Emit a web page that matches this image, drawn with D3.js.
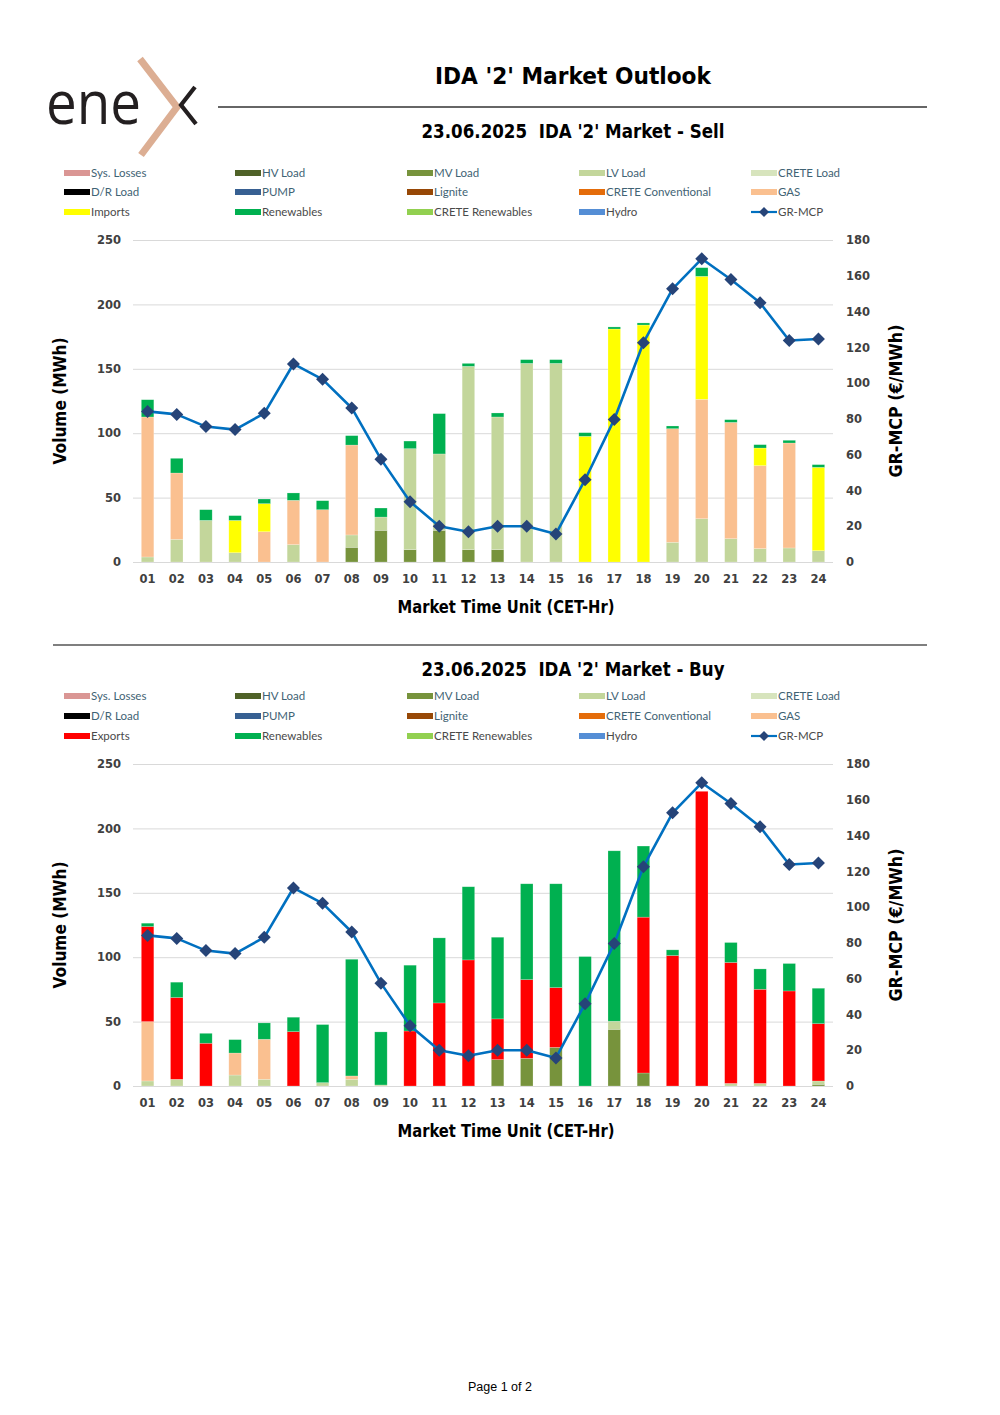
<!DOCTYPE html>
<html><head><meta charset="utf-8">
<script src="https://cdn.jsdelivr.net/npm/d3@7"></script>
<style>body{margin:0;background:#fff} svg{display:block}</style>
</head><body><svg id="c" width="1000" height="1415"></svg>
<script>
const hours = ["01","02","03","04","05","06","07","08","09","10","11","12","13","14","15","16","17","18","19","20","21","22","23","24"];
const price = [84.2,82.5,75.7,74.0,83.1,110.7,102.1,86.1,57.5,33.7,20.0,16.9,20.0,20.0,15.7,46.0,79.7,122.6,152.7,169.5,157.9,144.9,123.8,124.7];

// SELL side (MWh)
const sellMV   = [0,0,0,0,0,0,0,11.4,24.6,9.6,24.6,9.6,9.6,0,0,0,0,0,0,0,0,0,0,0];
const sellLV   = [3.9,17.6,32.3,7.2,0,13.5,0,9.6,10.3,78.4,59.3,142.3,103,154.2,154.2,0,0,0,15.3,33.6,18.1,10.4,10.9,8.8];
const sellGAS  = [108.7,51.5,0,0,23.5,34.4,40.6,69.8,0,0,0,0,0,0,0,0,0,0,88.2,92.7,90.3,64.4,81.5,0];
const sellImports = [0,0,0,25.1,21.8,0,0,0,0,0,0,0,0,0,0,97.6,180.9,184,0,95.5,0,13.7,0,64.7];
const sellRen  = [13.4,11.4,8.3,3.7,3.6,5.7,7,7.3,7,5.9,31.3,2.3,3.1,2.9,2.9,2.8,1.6,1.6,2.1,6.7,2.1,2.6,2.1,2.1];

// BUY side (MWh)
const buyMV   = [0,0,0,0,0,0,0,0,0,0,0,0,20.5,21.5,30,0,44,10.1,0,0,0,0,0,1.3];
const buyLV   = [3.9,5.2,0,8.5,5.2,0,2.6,5.2,0.8,0,0,0,0,0,0,0,6.3,0,0,0,2,2,0,2.6];
const buyGAS  = [46.1,0,0,17.1,31.1,0,0,2.6,0,0,0,0,0,0,0,0,0,0,0,0,0,0,0,0];
const buyExports = [73.8,63.5,33.2,0,0,42.2,0,0,0,42.7,64.5,97.9,31.6,61.1,46.4,0,0,121,101.3,228.8,93.9,73.1,73.8,44.5];
const buyRen  = [2.6,11.9,7.7,10.4,12.7,11.2,45.1,90.6,41.2,51.1,50.5,56.8,63.4,74.4,80.6,100.5,132.3,55.2,4.4,0,15.5,15.8,21.3,27.5];

const volTicks = [0,50,100,150,200,250];
const priceTicks = [0,20,40,60,80,100,120,140,160,180];

const colors = {
  "Sys. Losses":"#da9694","HV Load":"#4f6228","MV Load":"#77933c","LV Load":"#c3d69b","CRETE Load":"#d7e4bd",
  "D/R Load":"#000000","PUMP":"#376092","Lignite":"#974806","CRETE Conventional":"#e46c0a","GAS":"#fac090",
  "Imports":"#ffff00","Exports":"#ff0000","Renewables":"#00b050","CRETE Renewables":"#92d050","Hydro":"#558ed5"
};
const legendSell = ["Sys. Losses","HV Load","MV Load","LV Load","CRETE Load","D/R Load","PUMP","Lignite","CRETE Conventional","GAS","Imports","Renewables","CRETE Renewables","Hydro","GR-MCP"];
const legendBuy  = ["Sys. Losses","HV Load","MV Load","LV Load","CRETE Load","D/R Load","PUMP","Lignite","CRETE Conventional","GAS","Exports","Renewables","CRETE Renewables","Hydro","GR-MCP"];

const svg = d3.select("#c");
const FONT = "'DejaVu Sans', sans-serif";

// ---- Logo ----
const logo = svg.append("g");
logo.append("text").attr("x",46).attr("y",124).attr("font-family","'Open Sans', sans-serif").attr("font-size",60)
  .attr("fill","#231f20").attr("textLength",95).attr("lengthAdjust","spacingAndGlyphs").text("ene");
logo.append("path").attr("d","M140,59 L177,107 L141,155").attr("fill","none").attr("stroke","#dcae93").attr("stroke-width",7).attr("stroke-linejoin","miter");
logo.append("path").attr("d","M195,87 L181,105 L196,124").attr("fill","none").attr("stroke","#231f20").attr("stroke-width",4.2);

// ---- Title ----
svg.append("text").attr("x",573).attr("y",84).attr("text-anchor","middle").attr("font-family",FONT)
  .attr("font-weight","bold").attr("font-size",23).attr("fill","#000").attr("textLength",276).attr("lengthAdjust","spacingAndGlyphs").text("IDA '2' Market Outlook");
svg.append("line").attr("x1",218).attr("x2",927).attr("y1",107).attr("y2",107).attr("stroke","#333").attr("stroke-width",1.3);
svg.append("line").attr("x1",53).attr("x2",927).attr("y1",645).attr("y2",645).attr("stroke","#555").attr("stroke-width",1.5);

svg.append("text").attr("x",500).attr("y",1391).attr("text-anchor","middle").attr("font-family","'Liberation Sans', Arial, sans-serif")
  .attr("font-size",12.5).attr("fill","#000").text("Page 1 of 2");

function drawChart(cfg){
  const g = svg.append("g");
  g.append("text").attr("x",573).attr("y",cfg.titleY).attr("text-anchor","middle").attr("font-family",FONT)
   .attr("font-weight","bold").attr("font-size",19).attr("fill","#000").attr("textLength",303).attr("lengthAdjust","spacingAndGlyphs").text(cfg.title);

  // legend
  const colX = [64,235,407,579,751];
  cfg.legend.forEach((name,i)=>{
    const r = Math.floor(i/5), c = i%5;
    const lx = colX[c], ly = cfg.legendY[r];
    if(name==="GR-MCP"){
      g.append("line").attr("x1",lx).attr("x2",lx+26).attr("y1",ly).attr("y2",ly).attr("stroke","#0070c0").attr("stroke-width",2.2);
      g.append("path").attr("d",`M${lx+13},${ly-5}L${lx+18},${ly}L${lx+13},${ly+5}L${lx+8},${ly}Z`).attr("fill","#264478");
    } else {
      g.append("rect").attr("x",lx).attr("y",ly-3).attr("width",26).attr("height",6).attr("fill",colors[name]);
    }
    g.append("text").attr("x",lx+27).attr("y",ly+4).attr("font-family","Lato, sans-serif").attr("font-size",11.5)
     .attr("fill", r<2 ? "#3f6374" : "#4a4a4a").text(name);
  });

  const x = d3.scaleBand().domain(hours).range([133,833]).paddingInner(0.571).paddingOuter(0.2855);
  const y = d3.scaleLinear().domain([0,250]).range([cfg.bottom,cfg.top]);
  const y2 = d3.scaleLinear().domain([0,180]).range([cfg.bottom,cfg.top]);

  // grid
  g.append("g").attr("transform","translate(133,0)")
   .call(d3.axisLeft(y).tickValues(volTicks).tickSize(-700).tickFormat(""))
   .call(a=>a.select(".domain").remove())
   .call(a=>a.selectAll("line").attr("stroke","#d9d9d9").attr("stroke-width",1));

  // bars
  const rows = hours.map((h,i)=>{const o={h}; cfg.series.forEach(s=>o[s.name]=s.values[i]); return o;});
  const stack = d3.stack().keys(cfg.series.map(s=>s.name))(rows);
  g.append("g").selectAll("g").data(stack).join("g").attr("fill",d=>colors[d.key])
   .selectAll("rect").data(d=>d.filter(p=>p[1]-p[0]>0)).join("rect")
   .attr("x",d=>x(d.data.h)).attr("width",x.bandwidth())
   .attr("y",d=>y(d[1])).attr("height",d=>y(d[0])-y(d[1]))
   .attr("stroke","#ffffff").attr("stroke-opacity",0.35).attr("stroke-width",0.6);

  // axes labels
  const tickStyle = a=>{a.select(".domain").remove(); a.selectAll("text").attr("font-family",FONT).attr("font-weight","bold").attr("font-size",11.5).attr("fill","#404040");};
  g.append("g").attr("transform","translate(133,0)").call(d3.axisLeft(y).tickValues(volTicks).tickSize(0).tickPadding(12)).call(tickStyle);
  g.append("g").attr("transform","translate(833,0)").call(d3.axisRight(y2).tickValues(priceTicks).tickSize(0).tickPadding(13)).call(tickStyle);
  g.append("g").attr("transform",`translate(0,${cfg.bottom})`).call(d3.axisBottom(x).tickSize(0).tickPadding(13)).call(tickStyle);

  // line
  const cx = h=>x(h)+x.bandwidth()/2;
  g.append("path").datum(price).attr("fill","none").attr("stroke","#0070c0").attr("stroke-width",2.6).attr("stroke-linejoin","round")
   .attr("d",d3.line().x((d,i)=>cx(hours[i])).y(d=>y2(d)));
  g.append("g").selectAll("path").data(price).join("path")
   .attr("d",(d,i)=>{const px=cx(hours[i]), py=y2(d); return `M${px},${py-6.5}L${px+6.5},${py}L${px},${py+6.5}L${px-6.5},${py}Z`;})
   .attr("fill","#264478");

  // axis titles
  g.append("text").attr("x",506).attr("y",cfg.bottom+51).attr("text-anchor","middle").attr("font-family",FONT)
   .attr("font-weight","bold").attr("font-size",17).attr("fill","#000").attr("textLength",217).attr("lengthAdjust","spacingAndGlyphs").text("Market Time Unit (CET-Hr)");
  const midY = (cfg.top+cfg.bottom)/2;
  g.append("text").attr("transform",`translate(66,${midY}) rotate(-90)`).attr("text-anchor","middle").attr("font-family",FONT)
   .attr("font-weight","bold").attr("font-size",17).attr("fill","#000").attr("textLength",127).attr("lengthAdjust","spacingAndGlyphs").text("Volume (MWh)");
  g.append("text").attr("transform",`translate(902,${midY}) rotate(-90)`).attr("text-anchor","middle").attr("font-family",FONT)
   .attr("font-weight","bold").attr("font-size",17).attr("fill","#000").attr("textLength",153).attr("lengthAdjust","spacingAndGlyphs").text("GR-MCP (€/MWh)");
}

drawChart({title:"23.06.2025\u00a0\u00a0IDA '2' Market - Sell", titleY:138, legend:legendSell, legendY:[173,192,212], top:240, bottom:562,
  series:[{name:"MV Load",values:sellMV},{name:"LV Load",values:sellLV},{name:"GAS",values:sellGAS},{name:"Imports",values:sellImports},{name:"Renewables",values:sellRen}]});
drawChart({title:"23.06.2025\u00a0\u00a0IDA '2' Market - Buy", titleY:676, legend:legendBuy, legendY:[696,716,736], top:764, bottom:1086,
  series:[{name:"MV Load",values:buyMV},{name:"LV Load",values:buyLV},{name:"GAS",values:buyGAS},{name:"Exports",values:buyExports},{name:"Renewables",values:buyRen}]});
</script></body></html>
